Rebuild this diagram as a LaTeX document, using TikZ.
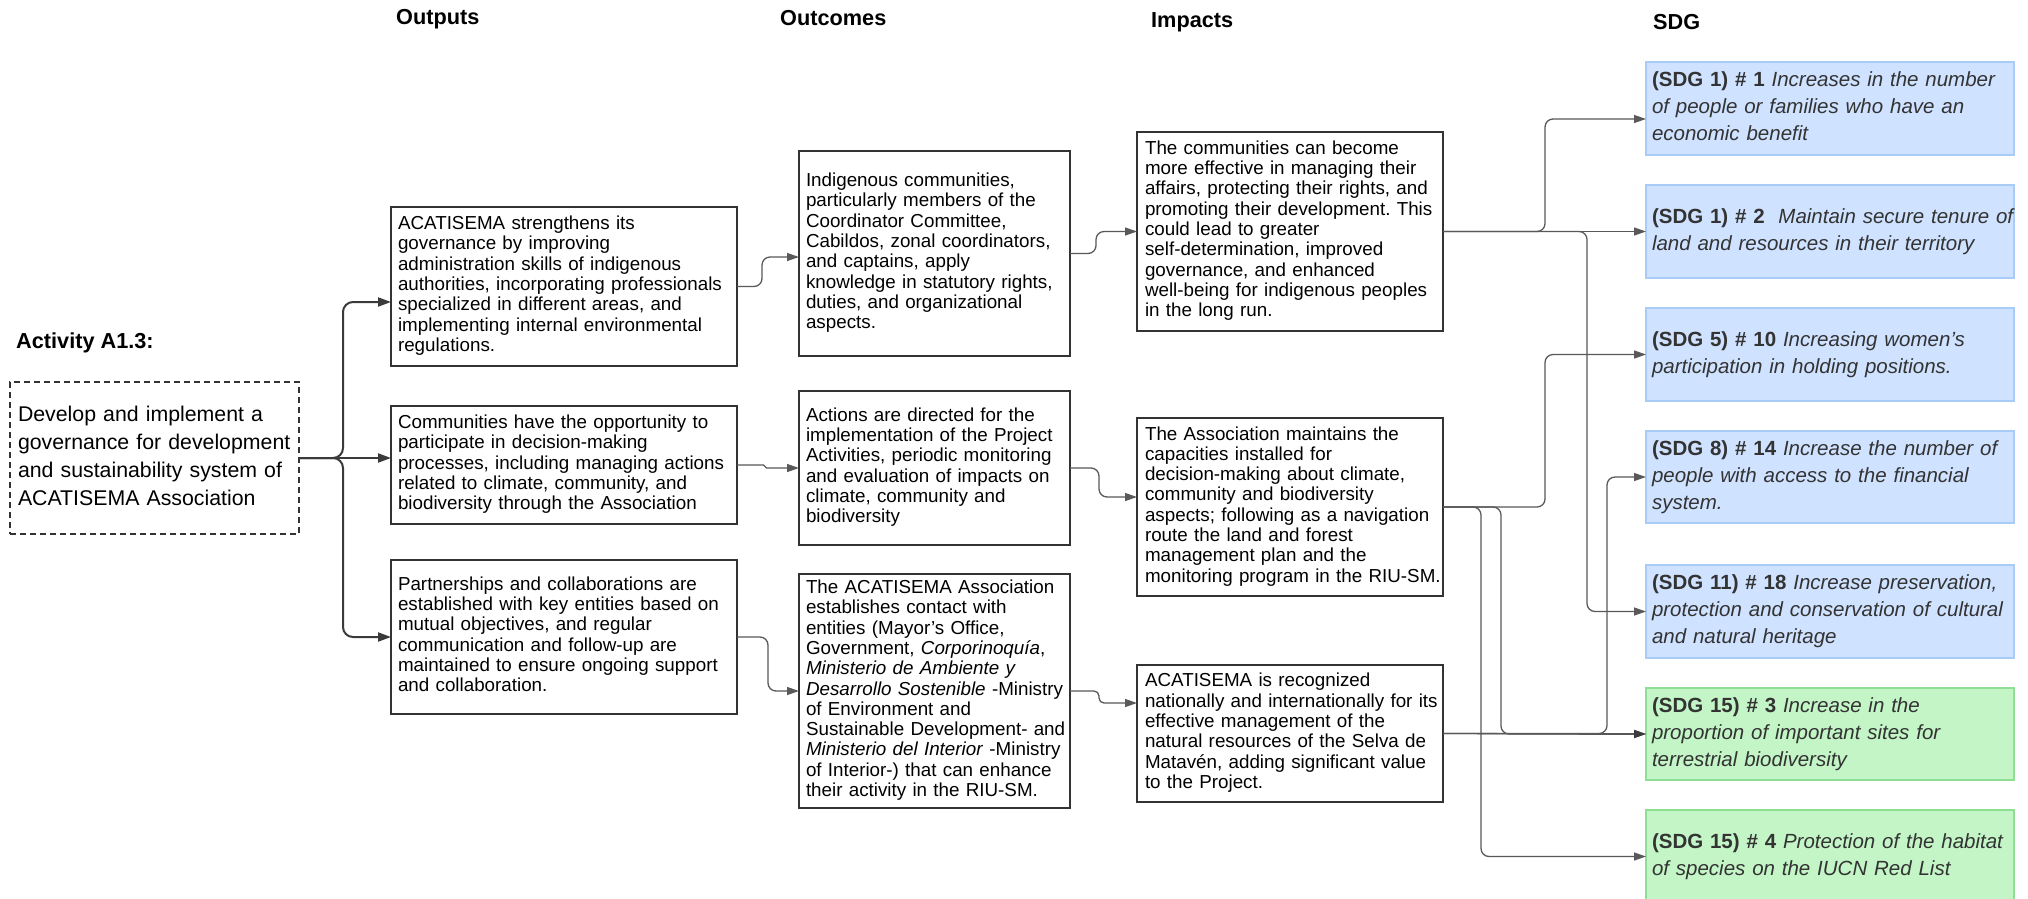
\documentclass[tikz,border=0pt]{standalone}
\usepackage{fontspec}
\setmainfont{Liberation Sans}
\usetikzlibrary{arrows.meta,calc}

\definecolor{boxline}{HTML}{333333}
\definecolor{connc}{HTML}{595959}
\definecolor{leftc}{HTML}{3A3A3A}
\definecolor{sdgtext}{HTML}{333333}
\definecolor{sdgblue}{HTML}{CFE2FF}
\definecolor{sdgblueline}{HTML}{A8CCF6}
\definecolor{sdggreen}{HTML}{C3F5C6}
\definecolor{sdggreenline}{HTML}{8EDF93}

\newcommand\bodysize{\fontsize{18.8}{20.3}\selectfont}
\newcommand\actsize{\fontsize{21.3}{27.8}\selectfont}
\newcommand\sdgsize{\fontsize{20.5}{27}\selectfont}
\newcommand\headsize{\fontsize{21.7}{26}\selectfont\bfseries}
% one line per row, never rebroken
\newcommand\lns[1]{\begin{tabular}{@{}l@{}}#1\end{tabular}}

\tikzset{
  box/.style={draw=boxline, line width=1.4pt, fill=white, anchor=north west,
    outer sep=0pt, inner ysep=0pt, align=left, font=\bodysize, text=black},
  outbox/.style={box, inner xsep=7pt, minimum width=346pt, text width=332pt},
  ocbox/.style={box, inner xsep=7pt, minimum width=271pt, text width=257pt},
  imbox/.style={box, inner xsep=8pt, minimum width=306pt, text width=290pt},
  actbox/.style={box, dashed, dash pattern=on 6pt off 4pt, inner xsep=8pt,
    minimum width=289pt, text width=273pt, font=\actsize},
  sdgbox/.style={anchor=north west, outer sep=0pt, inner xsep=6pt, inner ysep=0pt,
    line width=1.5pt, align=left, minimum width=368pt, text width=356pt,
    font=\sdgsize, text=sdgtext},
  blue/.style={sdgbox, draw=sdgblueline, fill=sdgblue},
  green/.style={sdgbox, draw=sdggreenline, fill=sdggreen},
  head/.style={anchor=west, inner sep=0pt, font=\headsize, text=black},
  conn/.style={draw=connc, line width=1.3pt, rounded corners=8pt,
    -{Triangle[length=12pt,width=8pt]}},
  lconn/.style={draw=leftc, line width=2pt, rounded corners=10pt,
    -{Triangle[length=13pt,width=9pt]}},
}

\begin{document}
\frenchspacing
\begin{tikzpicture}[x=1pt,y=-1pt]
\useasboundingbox (0,0) rectangle (2028,898);
\fill[white] (0,0) rectangle (2028,898);

% column headings
\node[head] (hout) at (396,19) {Outputs};
\node[head] (hoc) at (780,18) {Outcomes};
\node[head] (him) at (1151,22) {Impacts};
\node[head] (hsdg) at (1653,22) {SDG};
\node[head] (hact) at (16,343) {Activity A1.3:};

% activity
\node[actbox, minimum height=152pt] (act) at (10,382) {\lns{Develop and implement a\\
governance for development\\
and sustainability system of\\
ACATISEMA Association}};

% outputs
\node[outbox, minimum height=159pt] (out1) at (391,207) {\lns{ACATISEMA strengthens its\\
governance by improving\\
administration skills of indigenous\\
authorities, incorporating professionals\\
specialized in different areas, and\\
implementing internal environmental\\
regulations.}};
\node[outbox, minimum height=118pt] (out2) at (391,406) {\lns{Communities have the opportunity to\\
participate in decision-making\\
processes, including managing actions\\
related to climate, community, and\\
biodiversity through the Association}};
\node[outbox, minimum height=154pt] (out3) at (391,560) {\lns{Partnerships and collaborations are\\
established with key entities based on\\
mutual objectives, and regular\\
communication and follow-up are\\
maintained to ensure ongoing support\\
and collaboration.}};

% outcomes
\node[ocbox, minimum height=205pt] (oc1) at (799,151) {\lns{Indigenous communities,\\
particularly members of the\\
Coordinator Committee,\\
Cabildos, zonal coordinators,\\
and captains, apply\\
knowledge in statutory rights,\\
duties, and organizational\\
aspects.}};
\node[ocbox, minimum height=154pt] (oc2) at (799,391) {\lns{Actions are directed for the\\
implementation of the Project\\
Activities, periodic monitoring\\
and evaluation of impacts on\\
climate, community and\\
biodiversity}};
\node[ocbox, minimum height=234pt] (oc3) at (799,574) {\lns{The ACATISEMA Association\\
establishes contact with\\
entities (Mayor's Office,\\
Government, \textit{Corporinoquía},\\
\textit{Ministerio de Ambiente y}\\
\textit{Desarrollo Sostenible} -Ministry\\
of Environment and\\
Sustainable Development- and\\
\textit{Ministerio del Interior} -Ministry\\
of Interior-) that can enhance\\
their activity in the RIU-SM.}};

% impacts
\node[imbox, minimum height=199pt] (im1) at (1137,132) {\lns{The communities can become\\
more effective in managing their\\
affairs, protecting their rights, and\\
promoting their development. This\\
could lead to greater\\
self-determination, improved\\
governance, and enhanced\\
well-being for indigenous peoples\\
in the long run.}};
\node[imbox, minimum height=178pt] (im2) at (1137,418) {\lns{The Association maintains the\\
capacities installed for\\
decision-making about climate,\\
community and biodiversity\\
aspects; following as a navigation\\
route the land and forest\\
management plan and the\\
monitoring program in the RIU-SM.}};
\node[imbox, minimum height=137pt] (im3) at (1137,665) {\lns{ACATISEMA is recognized\\
nationally and internationally for its\\
effective management of the\\
natural resources of the Selva de\\
Matavén, adding significant value\\
to the Project.}};

% SDG targets
\node[blue, minimum height=93pt] (sdg1) at (1646,62) {\lns{\textbf{(SDG 1) \# 1} \textit{Increases in the number}\\
\textit{of people or families who have an}\\
\textit{economic benefit}}};
\node[blue, minimum height=93pt] (sdg2) at (1646,185) {\lns{\textbf{(SDG 1) \# 2}\ \ \textit{Maintain secure tenure of}\\
\textit{land and resources in their territory}}};
\node[blue, minimum height=93pt] (sdg3) at (1646,308) {\lns{\textbf{(SDG 5) \# 10} \textit{Increasing women's}\\
\textit{participation in holding positions.}}};
\node[blue, minimum height=92pt] (sdg4) at (1646,431) {\lns{\textbf{(SDG 8) \# 14} \textit{Increase the number of}\\
\textit{people with access to the financial}\\
\textit{system.}}};
\node[blue, minimum height=93pt] (sdg5) at (1646,565) {\lns{\textbf{(SDG 11) \# 18} \textit{Increase preservation,}\\
\textit{protection and conservation of cultural}\\
\textit{and natural heritage}}};
\node[green, minimum height=92pt] (sdg6) at (1646,688) {\lns{\textbf{(SDG 15) \# 3} \textit{Increase in the}\\
\textit{proportion of important sites for}\\
\textit{terrestrial biodiversity}}};
\node[green, minimum height=93pt] (sdg7) at (1646,810) {\lns{\textbf{(SDG 15) \# 4} \textit{Protection of the habitat}\\
\textit{of species on the IUCN Red List}}};

% activity -> outputs
\draw[lconn] (act.east) -- ++(44,0) |- ([yshift=-15.5pt]out1.west);
\draw[lconn] (act.east) -- (act.east -| out2.west);
\draw[lconn] (act.east) -- ++(44,0) |- (out3.west);

% outputs -> outcomes
\draw[conn] (out1.east) -- ++(25,0) |- ([yshift=-3.5pt]oc1.west);
\draw[conn, rounded corners=1.5pt] (out2.east) -- ++(28,0) |- (oc2.west);
\draw[conn] (out3.east) -- ++(31,0) |- (oc3.west);

% outcomes -> impacts
\draw[conn] (oc1.east) -- ++(26,0) |- (im1.west);
\draw[conn] (oc2.east) -- ++(29,0) |- ([yshift=10pt]im2.west);
\draw[conn, rounded corners=5pt] (oc3.east) -- ++(29,0) |- ([yshift=30.5pt]im3.west);

% impacts -> SDG targets
\draw[conn] (im1.east) -- (sdg2.west);
\draw[conn] (im1.east) -- ++(102,0) |- ([yshift=-10.5pt]sdg1.west);
\draw[conn] (im1.east) -- ++(144,0) |- (sdg5.west);
\draw[conn] (im2.east) -- ++(102,0) |- (sdg3.west);
\draw[conn] (im2.east) -- ++(58,0) |- (sdg6.west);
\draw[conn] (im2.east) -- ++(38,0) |- (sdg7.west);
\draw[conn, draw=leftc] (im3.east) -- (sdg6.west);
\draw[conn] (im3.east) -- ++(164,0) |- (sdg4.west);
\end{tikzpicture}
\end{document}
